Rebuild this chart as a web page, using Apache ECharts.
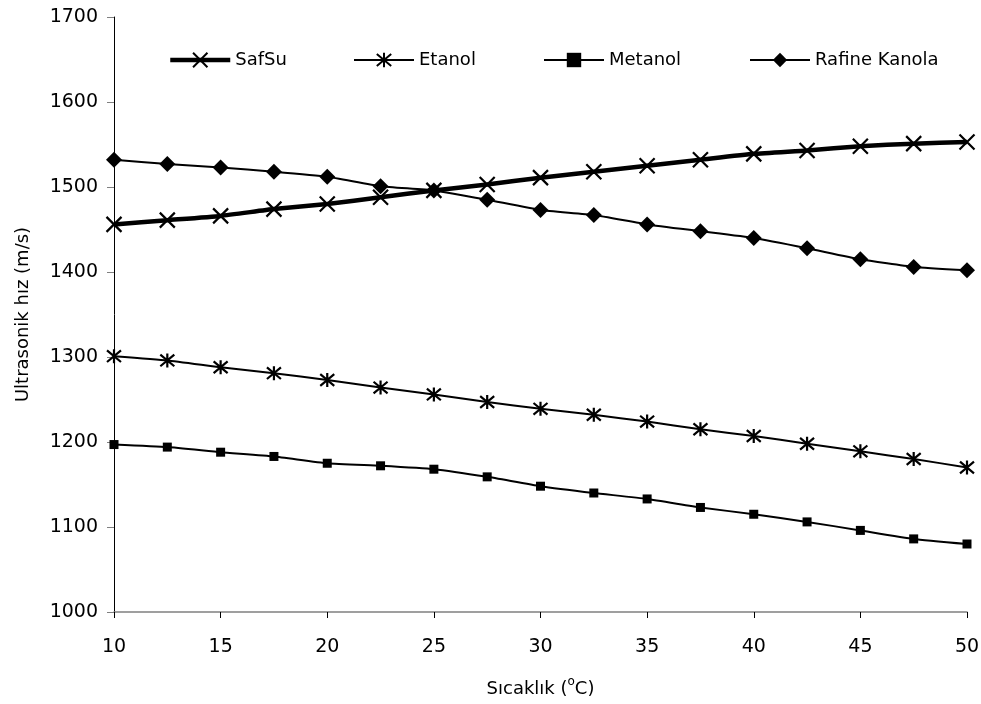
<!DOCTYPE html>
<html>
<head>
<meta charset="utf-8">
<script src="https://cdn.jsdelivr.net/npm/echarts@6/dist/echarts.min.js"></script>
<style>
  html, body { margin: 0; padding: 0; background: #fff; }
  #chart { width: 981px; height: 704px; }
</style>
</head>
<body>
<div id="chart"></div>
<script>
const temps = [10, 12.5, 15, 17.5, 20, 22.5, 25, 27.5, 30, 32.5, 35, 37.5, 40, 42.5, 45, 47.5, 50]
const safSu = [1456, 1461, 1466, 1474, 1480, 1488, 1496, 1503, 1511, 1518, 1525, 1532, 1539, 1543, 1548, 1551, 1553]
const etanol = [1301, 1296, 1288, 1281, 1273, 1264, 1256, 1247, 1239, 1232, 1224, 1215, 1207, 1198, 1189, 1180, 1170]
const metanol = [1197, 1194, 1188, 1183, 1175, 1172, 1168, 1159, 1148, 1140, 1133, 1123, 1115, 1106, 1096, 1086, 1080]
const kanola = [1532, 1527, 1523, 1518, 1512, 1501, 1496, 1485, 1473, 1467, 1456, 1448, 1440, 1428, 1415, 1406, 1402]

const font = 'DejaVu Sans'
const pair = arr => arr.map((v, i) => [temps[i], v])

const xMark = 'path://M0 0L10 10M10 0L0 10'
const starMark = 'path://M0 0L10 10M10 0L0 10M5 -1L5 11'

const chart = echarts.init(document.getElementById('chart'))

const legendBase = {
  top: 51,
  padding: 0,
  itemWidth: 60,
  itemHeight: 18,
  itemGap: 0,
  textStyle: { fontFamily: font, fontSize: 18, color: '#000' }
}

chart.setOption({
  backgroundColor: '#fff',
  animation: false,
  legend: [
    Object.assign({ left: 168, data: ['SafSu'], lineStyle: { width: 4.5 } }, legendBase),
    Object.assign({ left: 353, data: ['Etanol'] }, legendBase),
    Object.assign({ left: 543, data: ['Metanol'] }, legendBase),
    Object.assign({ left: 749, data: ['Rafine Kanola'] }, legendBase)
  ],
  grid: {
    left: 114,
    right: 14,
    top: 17,
    bottom: 92,
    containLabel: false,
    outerBoundsMode: 'none'
  },
  xAxis: {
    type: 'value',
    min: 10,
    max: 50,
    interval: 5,
    name: 'Sıcaklık ({sup|o}C)',
    nameLocation: 'middle',
    nameGap: 64,
    nameTextStyle: {
      fontFamily: font, fontSize: 18, color: '#000', lineHeight: 26,
      rich: { sup: { fontFamily: font, fontSize: 12, color: '#000', verticalAlign: 'top', lineHeight: 14 } }
    },
    axisLine: { lineStyle: { color: '#808080', width: 1.5 } },
    axisTick: { length: 6, lineStyle: { color: '#000' } },
    axisLabel: { margin: 26, fontFamily: font, fontSize: 19, color: '#000' },
    splitLine: { show: false }
  },
  yAxis: {
    type: 'value',
    min: 1000,
    max: 1700,
    interval: 100,
    name: 'Ultrasonik hız (m/s)',
    nameLocation: 'middle',
    nameGap: 82,
    nameTextStyle: { fontFamily: font, fontSize: 18, color: '#000' },
    axisLine: { lineStyle: { color: '#000', width: 1 } },
    axisTick: { length: 7, lineStyle: { color: '#808080' } },
    axisLabel: { margin: 16, fontFamily: font, fontSize: 19, color: '#000', formatter: v => String(v) },
    splitLine: { show: false }
  },
  series: [
    {
      name: 'SafSu',
      type: 'line',
      smooth: 0.15,
      data: pair(safSu),
      symbol: xMark,
      symbolSize: 15,
      lineStyle: { color: '#000', width: 4.5 },
      itemStyle: { color: 'rgba(0,0,0,0)', borderColor: '#000', borderWidth: 2.2 }
    },
    {
      name: 'Etanol',
      type: 'line',
      smooth: 0.15,
      data: pair(etanol),
      symbol: starMark,
      symbolSize: 14,
      lineStyle: { color: '#000', width: 2 },
      itemStyle: { color: 'rgba(0,0,0,0)', borderColor: '#000', borderWidth: 2.2 }
    },
    {
      name: 'Metanol',
      type: 'line',
      smooth: 0.15,
      data: pair(metanol),
      symbol: 'rect',
      symbolSize: 9,
      lineStyle: { color: '#000', width: 2 },
      itemStyle: { color: '#000' }
    },
    {
      name: 'Rafine Kanola',
      type: 'line',
      smooth: 0.15,
      data: pair(kanola),
      symbol: 'diamond',
      symbolSize: 16,
      lineStyle: { color: '#000', width: 2 },
      itemStyle: { color: '#000' }
    }
  ]
})
</script>
</body>
</html>
